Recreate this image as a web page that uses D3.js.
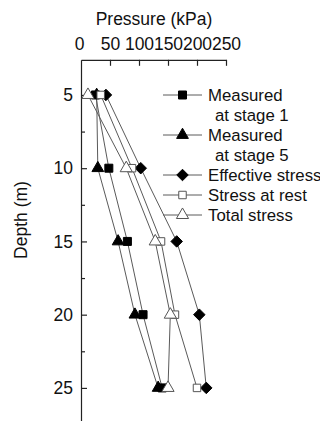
<!DOCTYPE html>
<html>
<head>
<meta charset="utf-8">
<script src="https://cdn.jsdelivr.net/npm/d3@7"></script>
<style>
  html, body { margin: 0; padding: 0; background: #fff; }
  svg { display: block; font-family: "Liberation Sans", Arial, sans-serif; }
</style>
</head>
<body>
<svg id="chart" width="320" height="421"></svg>
<script>
// Depths of the measurement points (m)
const depths = [5, 10, 15, 20, 25];

// Lateral pressure profiles (kPa) at each depth
const measuredStage1 = [25, 48, 80, 107, 140];
const measuredStage5 = [27, 29, 64, 93, 133];
const effectiveStress = [43, 103, 165, 204, 216];
const stressAtRest = [34, 88, 138, 162, 200];
const totalStress = [12, 78, 128, 154, 150];

// Axis ticks
const pressureTicks = [0, 50, 100, 150, 200, 250];
const depthTicks = [5, 10, 15, 20, 25];
const depthMinorTicks = [7.5, 12.5, 17.5, 22.5, 27.5];

const seriesNames = ["Measured\n  at stage 1", "Measured\n  at stage 5", "Effective stress", "Stress at rest", "Total stress"];
const seriesValues = [measuredStage1, measuredStage5, effectiveStress, stressAtRest, totalStress];

// A diamond that is a square turned 45 degrees
const squareDiamond = {
  draw(ctx, size) {
    const r = Math.sqrt(size / 2);
    ctx.moveTo(0, -r); ctx.lineTo(r, 0); ctx.lineTo(0, r); ctx.lineTo(-r, 0); ctx.closePath();
  }
};
const seriesSymbols = [d3.symbolSquare, d3.symbolTriangle, squareDiamond, d3.symbolSquare, d3.symbolTriangle];
const seriesFilled = [true, true, true, false, false];
const symbolSizes = [64, 60, 66, 56, 64];

const FONT = 17.5;
const LEGEND_FONT = 16.8;
const svg = d3.select("#chart");
const lineColor = "#5a5a5a";
const axisColor = "#222";

const x = d3.scaleLinear().domain([0, 250]).range([81, 226]);
const y = d3.scaleLinear().domain([2.6, 27.6]).range([59.8, 426]);

// Top pressure axis, ticks pointing inward
const xAxis = svg.append("g")
  .attr("transform", `translate(0,${y(2.6)})`)
  .call(d3.axisTop(x).tickValues(pressureTicks).tickSizeInner(-6).tickSizeOuter(0).tickPadding(10));

// Left depth axis, ticks pointing inward
const yAxis = svg.append("g")
  .attr("transform", `translate(${x(0)},0)`)
  .call(d3.axisLeft(y).tickValues(depthTicks).tickSizeInner(-6).tickSizeOuter(0).tickPadding(8));

svg.append("g")
  .attr("transform", `translate(${x(0)},0)`)
  .call(d3.axisLeft(y).tickValues(depthMinorTicks).tickSize(-4).tickFormat(""))
  .call(g => g.select(".domain").remove());

svg.selectAll(".domain, .tick line").attr("stroke", axisColor).attr("stroke-width", 1.2);
svg.selectAll(".tick text").attr("font-size", FONT).attr("fill", "#111")
  .attr("font-family", "'Liberation Sans', Arial, sans-serif");
xAxis.selectAll(".tick").filter(d => d === 0).select("line").remove();
xAxis.selectAll(".tick").filter(d => d === 0).select("text").attr("dx", -2);

// Axis titles
svg.append("text")
  .attr("x", 154).attr("y", 25)
  .attr("text-anchor", "middle")
  .attr("font-size", FONT).attr("fill", "#111")
  .text("Pressure (kPa)");

svg.append("text")
  .attr("transform", "translate(27,220) rotate(-90)")
  .attr("text-anchor", "middle")
  .attr("font-size", FONT).attr("fill", "#111")
  .text("Depth (m)");

// Profiles
const line = d3.line().x(d => x(d[0])).y(d => y(d[1]));

seriesValues.forEach((vals, i) => {
  const pts = vals.map((v, j) => [v, depths[j]]);
  svg.append("path")
    .datum(pts)
    .attr("d", line)
    .attr("fill", "none")
    .attr("stroke", lineColor)
    .attr("stroke-width", 1);
});

seriesValues.forEach((vals, i) => {
  const pts = vals.map((v, j) => [v, depths[j]]);
  const sym = d3.symbol().type(seriesSymbols[i]).size(symbolSizes[i]);
  svg.append("g").selectAll("path")
    .data(pts)
    .join("path")
    .attr("transform", d => `translate(${x(d[0])},${y(d[1])})`)
    .attr("d", sym)
    .attr("fill", seriesFilled[i] ? "#000" : "#fff")
    .attr("stroke", seriesFilled[i] ? "#000" : "#555")
    .attr("stroke-width", 1);
});

// Legend
const legendRows = [95, 135, 175, 195, 215];
const legend = svg.append("g");
seriesNames.forEach((name, i) => {
  const ly = legendRows[i];
  const g = legend.append("g");
  g.append("line")
    .attr("x1", 163).attr("x2", 202)
    .attr("y1", ly).attr("y2", ly)
    .attr("stroke", lineColor).attr("stroke-width", 1);
  g.append("path")
    .attr("transform", `translate(182.5,${ly})`)
    .attr("d", d3.symbol().type(seriesSymbols[i]).size(symbolSizes[i])())
    .attr("fill", seriesFilled[i] ? "#000" : "#fff")
    .attr("stroke", seriesFilled[i] ? "#000" : "#555")
    .attr("stroke-width", 1);
  const lines = name.split("\n");
  lines.forEach((t, k) => {
    g.append("text")
      .attr("x", k === 0 ? 208 : 215)
      .attr("y", ly + k * 20)
      .attr("dy", "0.36em")
      .attr("font-size", LEGEND_FONT).attr("fill", "#111")
      .text(t.trim());
  });
});
</script>
</body>
</html>
